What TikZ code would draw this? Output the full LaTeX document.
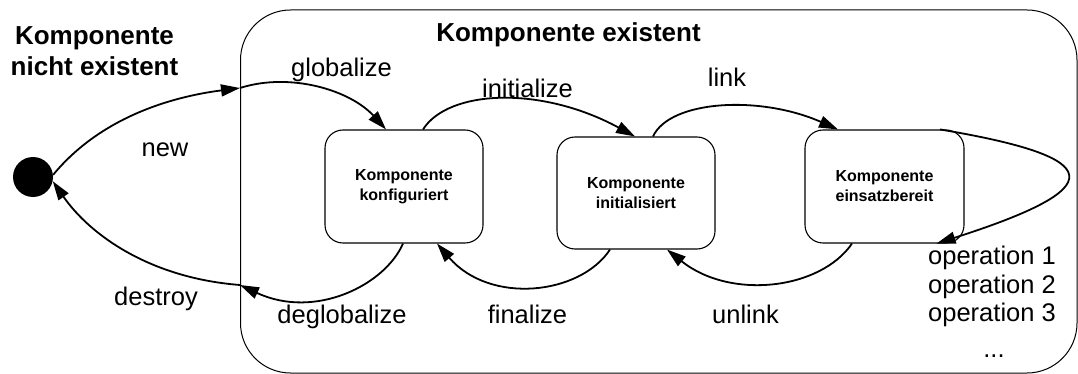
\documentclass[tikz,border=0pt]{standalone}
\usepackage{fontspec}
\setmainfont{Liberation Sans}
\usetikzlibrary{arrows.meta}
\begin{document}
\begin{tikzpicture}[x=1pt,y=-1pt,
  trans/.style={line width=1.8pt, -{Triangle[length=19pt,width=12pt]}},
  lbl/.style={font=\fontsize{25.5}{30}\selectfont, inner sep=0pt, anchor=base},
  oplbl/.style={font=\fontsize{25.5}{30}\selectfont, inner sep=0pt, anchor=base west},
  heading/.style={font=\fontsize{26}{31}\bfseries\selectfont, inner sep=0pt, anchor=base},
  statebox/.style={draw, line width=1.1pt, rounded corners=18pt, minimum width=158pt,
    minimum height=113pt, align=center, inner sep=0pt,
    font=\fontsize{16}{20}\bfseries\selectfont},
]
\useasboundingbox (0,0) rectangle (1078,374);

% composite state and initial pseudo-state
\node[draw, line width=1pt, rounded corners=50pt, minimum width=836.5pt,
      minimum height=363pt, inner sep=0pt] (comp) at (658.75,191.5) {};
\node[circle, fill, minimum size=40pt, inner sep=0pt] (init) at (33,177) {};

% points where transitions cross the composite border
\coordinate (gin)  at ([yshift=103.5pt]comp.west);
\coordinate (gout) at ([yshift=-93.5pt]comp.west);

% sub-states
\node[statebox] (k1) at (404,186.5) {Komponente\\konfiguriert};
\node[statebox, minimum height=112pt] (k2) at (636,193) {Komponente\\initialisiert};
\node[statebox, minimum width=159pt] (k3) at (884.5,186.5) {Komponente\\einsatzbereit};

% headings
\node[heading] (tnot1) at (94.5,45) {Komponente};
\node[heading] (tnot2) at (94.5,76) {nicht existent};
\node[heading] (tcomp) at (568.5,42) {Komponente existent};

% transitions
\draw[trans] (init.6) .. controls (100,118) and (170,97) .. (gin);
\draw[trans] (gin) .. controls (290,72) and (350,90) .. ([xshift=-18pt]k1.north);
\draw[trans] ([xshift=-1pt]k1.south) .. controls (385,285) and (315,320) .. (gout);
\draw[trans] (gout) .. controls (150,278) and (90,235) .. (init.-12);
\draw[trans] ([xshift=19pt]k1.north) .. controls (448,90) and (540,85) .. ([xshift=-1pt]k2.north);
\draw[trans] ([xshift=-26pt]k2.south) .. controls (580,295) and (490,305) .. ([xshift=33pt]k1.south);
\draw[trans] ([xshift=17pt]k2.north) .. controls (670,100) and (760,95) .. ([xshift=-46.5pt]k3.north);
\draw[trans] ([xshift=-32.5pt]k3.south) .. controls (820,290) and (730,300) .. ([xshift=31pt]k2.south);
\draw[trans] ([xshift=55.5pt]k3.north) .. controls (1110,158) and (1110,188) .. ([xshift=52pt]k3.south);

% transition labels
\node[lbl] (lnew) at (165,157) {new};
\node[lbl] (lglob) at (341.5,77) {globalize};
\node[lbl] (ldest) at (156,305) {destroy};
\node[lbl] (ldeglob) at (342,323) {deglobalize};
\node[lbl] (linit) at (527.5,98) {initialize};
\node[lbl] (lfin) at (527.5,323) {finalize};
\node[lbl] (llink) at (727,87) {link};
\node[lbl] (lunlink) at (745.5,323) {unlink};
\node[oplbl] (op1) at (928,264) {operation 1};
\node[oplbl] (op2) at (928,293) {operation 2};
\node[oplbl] (op3) at (928,321) {operation 3};
\node[lbl] (opdots) at (994,357) {...};
\end{tikzpicture}
\end{document}
